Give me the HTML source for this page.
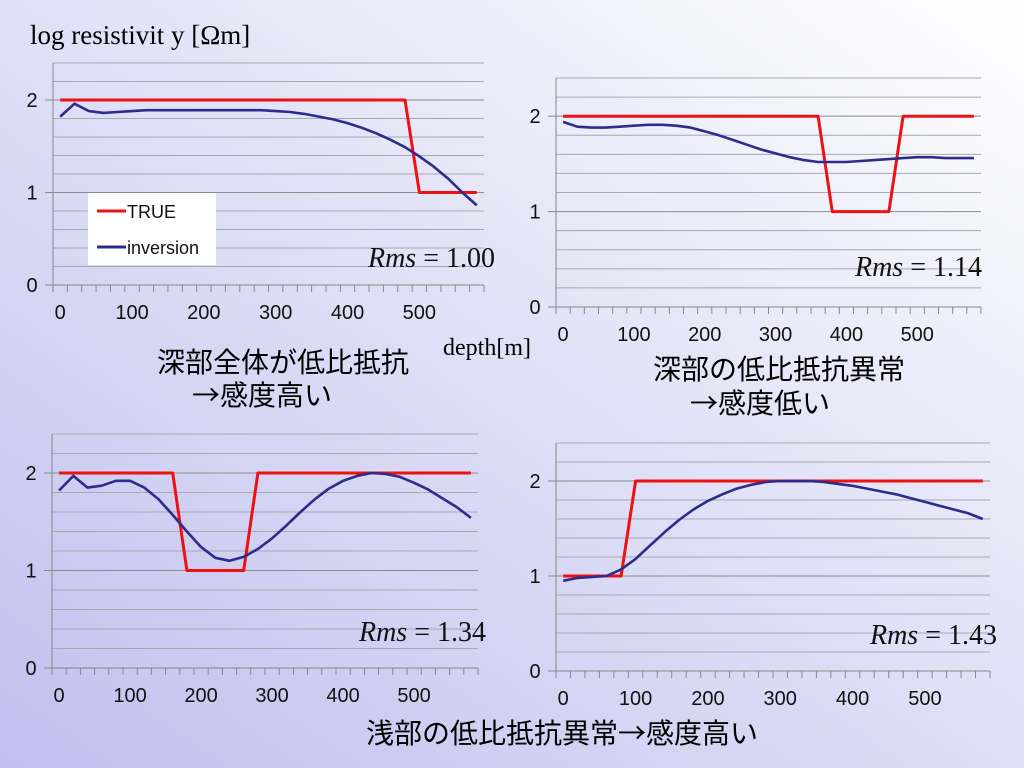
<!DOCTYPE html>
<html><head><meta charset="utf-8"><style>
html,body{margin:0;padding:0}
body{width:1024px;height:768px;overflow:hidden;background:linear-gradient(35deg,#c0c0ee 0%,#dcdcf6 45%,#ffffff 100%);font-family:"Liberation Sans","Noto Sans CJK JP",sans-serif}
svg{position:absolute;left:0;top:0}
</style></head><body>
<svg id="s" width="1024" height="768">
<text x="30" y="44" font-family="Liberation Serif,serif" font-size="27">log  resistivit  y [Ωm]</text>
<text x="443" y="355" font-family="Liberation Serif,serif" font-size="24">depth[m]</text>
<g font-family="Noto Sans CJK JP,sans-serif" font-size="28" text-anchor="middle">
<text x="283" y="372">深部全体が低比抵抗</text>
<text x="262" y="405">→感度高い</text>
<text x="779" y="379">深部の低比抵抗異常</text>
<text x="760" y="413">→感度低い</text>
<text x="562" y="743">浅部の低比抵抗異常→感度高い</text>
</g>
</svg>
<script>
const depths=[0,20,40,60,80,100,120,140,160,180,200,220,240,260,280,300,320,340,360,380,400,420,440,460,480,500,520,540,560,580];
const xTickLabels=["0","100","200","300","400","500"];
const yTickLabels=["0","1","2"];
const true1=[2,2,2,2,2,2,2,2,2,2,2,2,2,2,2,2,2,2,2,2,2,2,2,2,2,1,1,1,1,1];
const inv1=[1.82,1.96,1.88,1.86,1.87,1.88,1.89,1.89,1.89,1.89,1.89,1.89,1.89,1.89,1.89,1.88,1.87,1.85,1.82,1.79,1.75,1.70,1.64,1.57,1.49,1.39,1.28,1.15,1.0,0.86];
const true2=[2,2,2,2,2,2,2,2,2,2,2,2,2,2,2,2,2,2,2,1,1,1,1,1,2,2,2,2,2,2];
const inv2=[1.94,1.89,1.88,1.88,1.89,1.90,1.91,1.91,1.90,1.88,1.84,1.80,1.75,1.70,1.65,1.61,1.57,1.54,1.52,1.52,1.52,1.53,1.54,1.55,1.56,1.57,1.57,1.56,1.56,1.56];
const true3=[2,2,2,2,2,2,2,2,2,1,1,1,1,1,2,2,2,2,2,2,2,2,2,2,2,2,2,2,2,2];
const inv3=[1.82,1.97,1.85,1.87,1.92,1.92,1.85,1.73,1.57,1.40,1.24,1.13,1.10,1.14,1.22,1.33,1.46,1.60,1.73,1.84,1.92,1.97,2.0,1.99,1.96,1.90,1.83,1.74,1.65,1.54];
const true4=[1,1,1,1,1,2,2,2,2,2,2,2,2,2,2,2,2,2,2,2,2,2,2,2,2,2,2,2,2,2];
const inv4=[0.95,0.98,0.99,1.00,1.07,1.18,1.32,1.46,1.59,1.70,1.79,1.86,1.92,1.96,1.99,2.0,2.0,2.0,1.99,1.97,1.95,1.92,1.89,1.86,1.82,1.78,1.74,1.70,1.66,1.60];
const rmsLabels=["1.00","1.14","1.34","1.43"];
const NS="http://www.w3.org/2000/svg";
const svg=document.getElementById('s');
function mk(t,a,p){const e=document.createElementNS(NS,t);for(const k in a)e.setAttribute(k,a[k]);(p||svg).appendChild(e);return e;}
const panels=[
 {l:53,r:484,t:63,b:285,tr:true1,inv:inv1,rx:495,ry:267,legend:true},
 {l:556,r:981,t:78,b:307,tr:true2,inv:inv2,rx:982,ry:276},
 {l:52,r:478,t:434,b:668,tr:true3,inv:inv3,rx:486,ry:641},
 {l:556,r:990,t:443,b:671,tr:true4,inv:inv4,rx:997,ry:644}];
panels.forEach((P,pi)=>{
 const g=mk('g',{});
 
 
 const n=depths.length, bw=(P.r-P.l)/n;
 const xs=i=>P.l+bw*(i+0.5);
 const ys=v=>P.b-(P.b-P.t)*v/2.4;
 for(let k=1;k<=12;k++){const v=k*0.2;const y=ys(v);
  const ln=mk('line',{x1:P.l,x2:P.r,y1:y,y2:y,stroke:(k%5==0)?'#8c8c8c':'#a8a8b0','stroke-width':1},g);
  }
 mk('line',{x1:P.l,x2:P.l,y1:P.t,y2:P.b,stroke:'#888','stroke-width':1},g);
 mk('line',{x1:P.l-8,x2:P.r,y1:P.b,y2:P.b,stroke:'#888','stroke-width':1},g);
 for(let k=0;k<=2;k++)mk('line',{x1:P.l-8,x2:P.l,y1:ys(k),y2:ys(k),stroke:'#888'},g);
 for(let i=0;i<=n;i++){const x=P.l+bw*i;mk('line',{x1:x,x2:x,y1:P.b,y2:P.b+7,stroke:'#888'},g);}
 yTickLabels.forEach((s,k)=>{const t=mk('text',{x:P.l-21,y:ys(+s)+7,'font-size':20,'text-anchor':'middle',fill:'#111'},g);t.textContent=s;
  });
 xTickLabels.forEach(s=>{const i=depths.indexOf(+s);const t=mk('text',{x:xs(i),y:P.b+34,'font-size':20,'text-anchor':'middle',fill:'#111'},g);t.textContent=s;
  });
 const pt=a=>a.map((v,i)=>xs(i).toFixed(1)+','+ys(v).toFixed(1)).join(' ');
 const r=mk('polyline',{points:pt(P.tr),fill:'none',stroke:'#ee1111','stroke-width':3,'stroke-linejoin':'round'},g);
 
 const b=mk('polyline',{points:pt(P.inv),fill:'none',stroke:'#2c2c8c','stroke-width':2.6,'stroke-linejoin':'round'},g);
 
 const rt=mk('text',{x:P.rx,y:P.ry,'font-size':28,'text-anchor':'end','font-family':'Liberation Serif,serif',fill:'#111'},g);
 const t1=mk('tspan',{'font-style':'italic'},rt);t1.textContent='Rms ';
 const t2=mk('tspan',{},rt);t2.textContent=' = '+rmsLabels[pi];
 
 if(P.legend){
  const lg=mk('g',{},g);
  
  mk('rect',{x:88,y:193,width:128,height:72,fill:'#fff'},lg);
  mk('line',{x1:97,x2:126,y1:211,y2:211,stroke:'#ee1111','stroke-width':3},lg);
  mk('line',{x1:97,x2:126,y1:247,y2:247,stroke:'#2c2c8c','stroke-width':3},lg);
  const a=mk('text',{x:127,y:218,'font-size':18,fill:'#111'},lg);a.textContent='TRUE';
  
  const c=mk('text',{x:127,y:254,'font-size':18,fill:'#111'},lg);c.textContent='inversion';
  
 }
});
</script>
</body></html>
